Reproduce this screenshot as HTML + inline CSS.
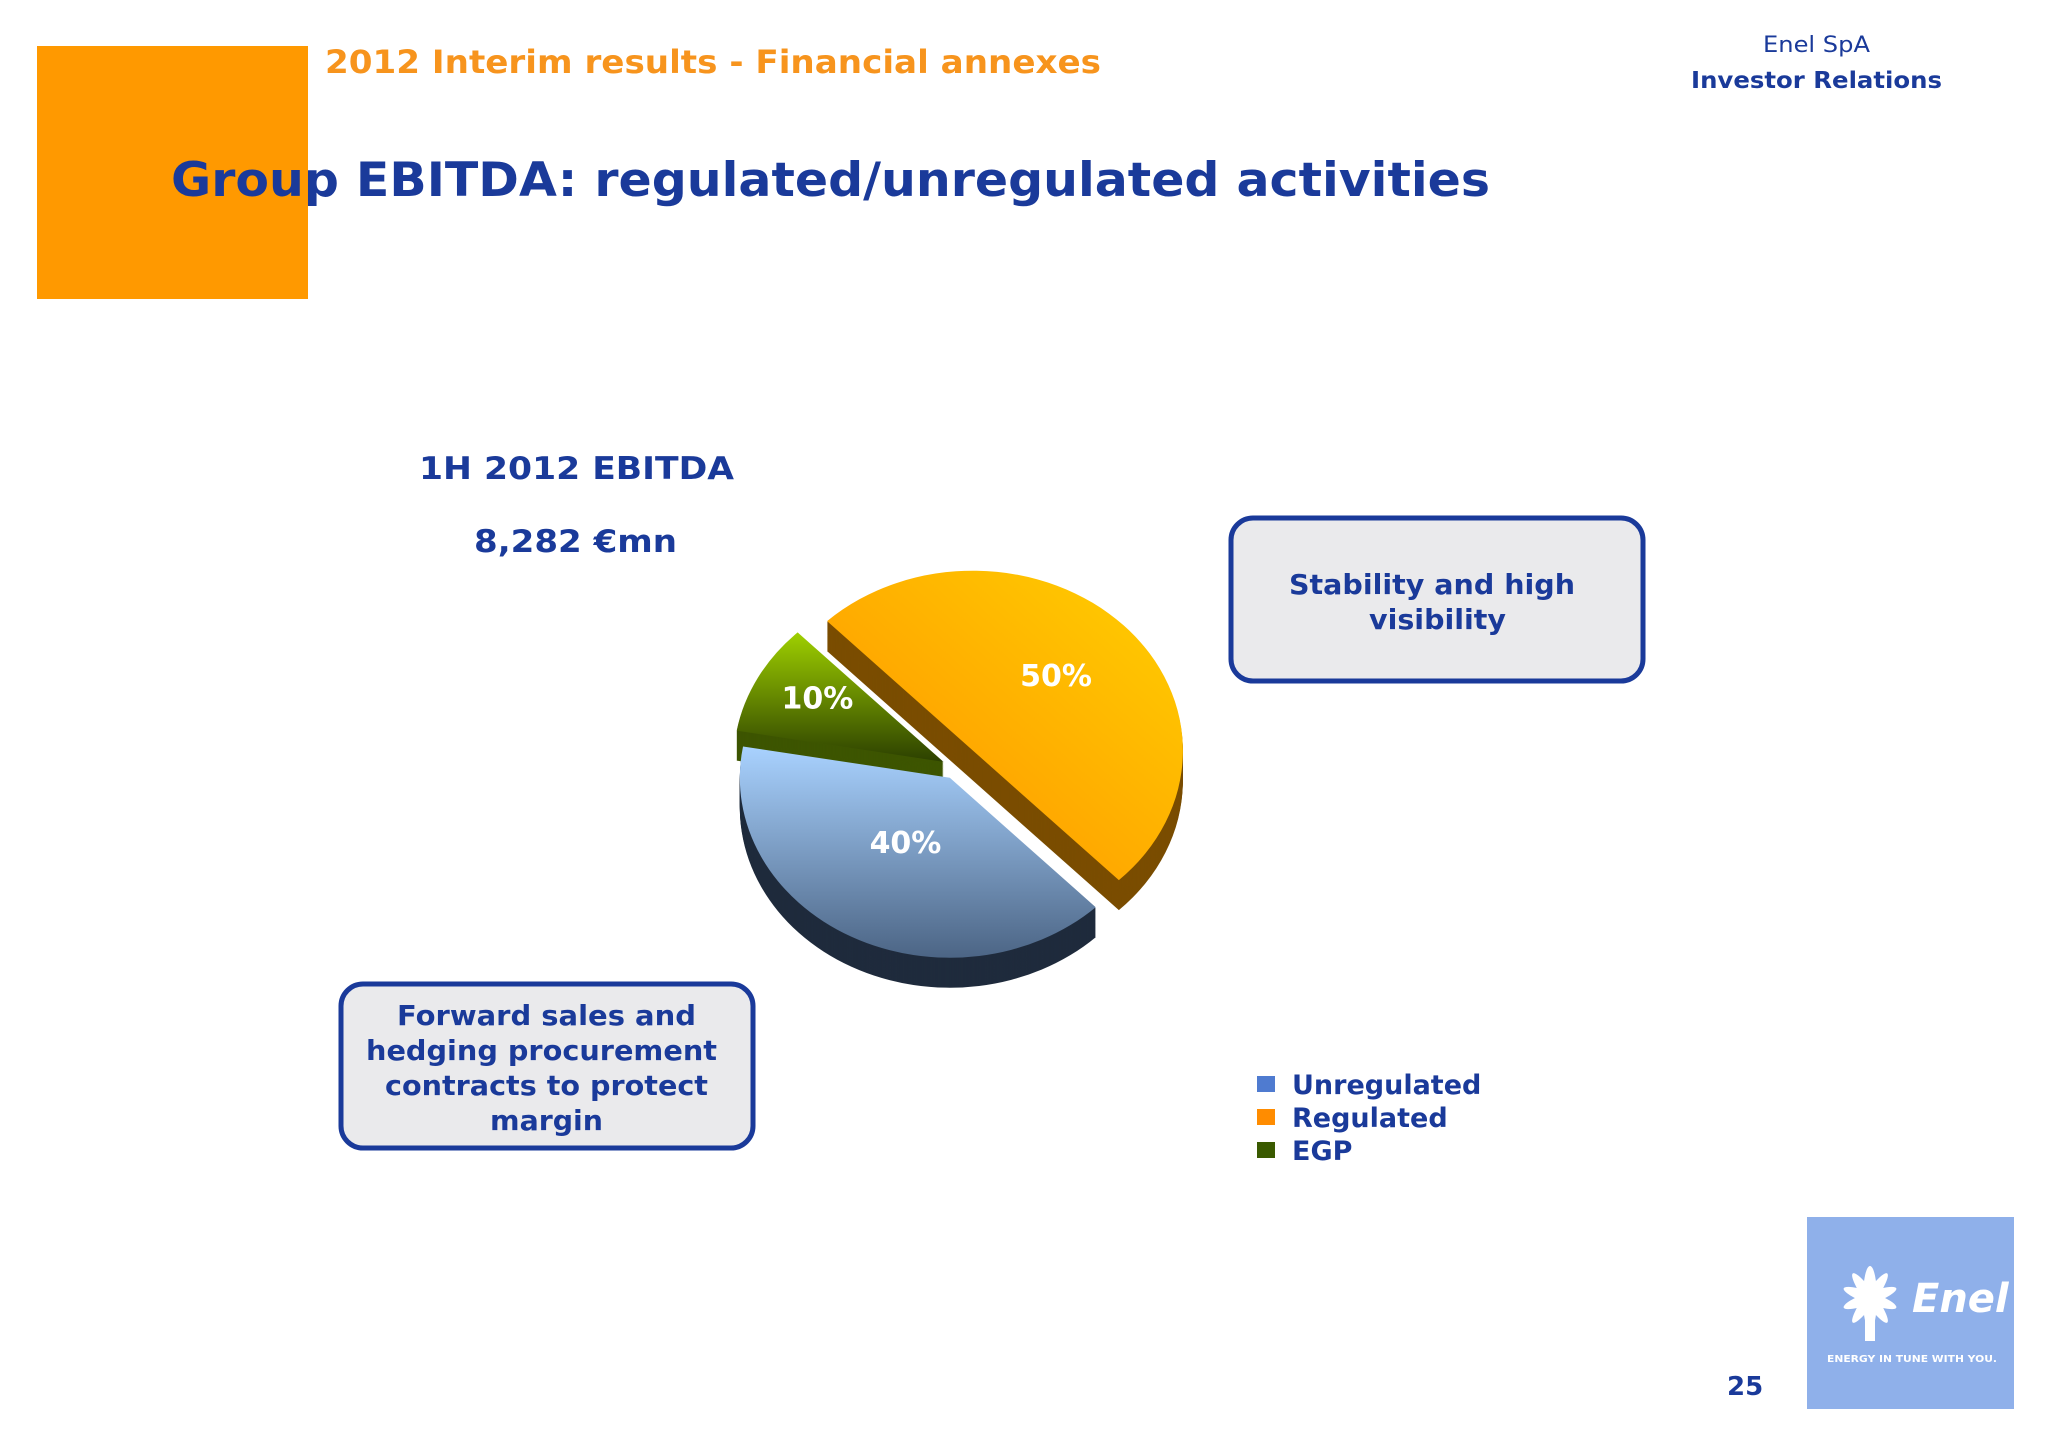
<!DOCTYPE html>
<html><head><meta charset="utf-8"><style>
html,body{margin:0;padding:0;background:#fff;}
svg{display:block;font-family:"DejaVu Sans","Liberation Sans",sans-serif;font-weight:bold;}
</style></head><body>
<svg id="slide" width="2048" height="1448" viewBox="0 0 2048 1448">
<defs>
<linearGradient id="gOrange" x1="0" y1="1" x2="1" y2="0"><stop offset="0.3" stop-color="#ffa200"/><stop offset="1" stop-color="#ffd000"/></linearGradient>
<linearGradient id="gBlue" x1="0" y1="0" x2="0" y2="1"><stop offset="0" stop-color="#a9d2ff"/><stop offset="1" stop-color="#4c6585"/></linearGradient>
<linearGradient id="gGreen" x1="0" y1="0" x2="0" y2="1"><stop offset="0" stop-color="#9fd000"/><stop offset="1" stop-color="#2c4000"/></linearGradient>
</defs>
<rect x="37" y="46" width="271" height="253" fill="#ff9900"/>
<text x="325" y="73" font-size="32" fill="#f7941d" textLength="776" lengthAdjust="spacingAndGlyphs">2012 Interim results - Financial annexes</text>
<text x="1763" y="52" font-size="22" font-weight="normal" fill="#1a3a9a" textLength="107" lengthAdjust="spacingAndGlyphs">Enel SpA</text>
<text x="1691" y="88" font-size="23" fill="#1a3a9a" textLength="251" lengthAdjust="spacingAndGlyphs">Investor Relations</text>
<text x="171" y="196" font-size="47" fill="#1a3a9a" textLength="1319" lengthAdjust="spacingAndGlyphs">Group EBITDA: regulated/unregulated activities</text>
<text x="419" y="479" font-size="31" fill="#1a3a9a" textLength="315" lengthAdjust="spacingAndGlyphs">1H 2012 EBITDA</text>
<text x="474" y="552" font-size="31" fill="#1a3a9a" textLength="203" lengthAdjust="spacingAndGlyphs">8,282 €mn</text>

<g>
<rect x="1231" y="518" width="412" height="163" rx="22" fill="#eaeaec" stroke="#1a3a9a" stroke-width="5"/>
<text x="1289" y="594" font-size="28" fill="#1a3a9a" textLength="286" lengthAdjust="spacingAndGlyphs">Stability and high</text>
<text x="1369" y="629" font-size="28" fill="#1a3a9a" textLength="137" lengthAdjust="spacingAndGlyphs">visibility</text>
</g>
<g>
<rect x="341" y="984" width="412" height="164" rx="22" fill="#eaeaec" stroke="#1a3a9a" stroke-width="5"/>
<text x="397" y="1025" font-size="28" fill="#1a3a9a" textLength="299" lengthAdjust="spacingAndGlyphs">Forward sales and</text>
<text x="366" y="1060" font-size="28" fill="#1a3a9a" textLength="351" lengthAdjust="spacingAndGlyphs">hedging procurement</text>
<text x="385" y="1095" font-size="28" fill="#1a3a9a" textLength="323" lengthAdjust="spacingAndGlyphs">contracts to protect</text>
<text x="490" y="1130" font-size="28" fill="#1a3a9a" textLength="113" lengthAdjust="spacingAndGlyphs">margin</text>
</g>

<g id="pie"></g>
<g id="legend"></g>

<text x="1727" y="1395" font-size="26" fill="#1a3a9a">25</text>
<g>
<rect x="1807" y="1217" width="207" height="192" fill="#8fb0ea"/>
<g fill="#fff">
<ellipse cx="1870" cy="1298" rx="7" ry="32"/>
<ellipse cx="1870" cy="1298" rx="6" ry="30" transform="rotate(35 1870 1298)"/>
<ellipse cx="1870" cy="1298" rx="6" ry="30" transform="rotate(-35 1870 1298)"/>
<ellipse cx="1870" cy="1298" rx="6" ry="28" transform="rotate(70 1870 1298)"/>
<ellipse cx="1870" cy="1298" rx="6" ry="28" transform="rotate(-70 1870 1298)"/>
<rect x="1865" y="1305" width="10" height="36"/>
</g>
<text x="1912" y="1312" font-size="40" font-style="italic" fill="#fff">Enel</text>
<text x="1827" y="1362" font-size="10" fill="#fff" textLength="170" lengthAdjust="spacingAndGlyphs">ENERGY IN TUNE WITH YOU.</text>
</g>

<script>
const categories = ["Regulated", "Unregulated", "EGP"];
const values = [50, 40, 10];
const labels = ["50%", "40%", "10%"];
const legendOrder = ["Unregulated", "Regulated", "EGP"];

const NS = "http://www.w3.org/2000/svg";
const pie = document.getElementById("pie");
const legend = document.getElementById("legend");
const base = {x: 955, y: 768}, rx = 210, ry = 180, depth = 30, startDeg = 226;
const tops = {Regulated: "url(#gOrange)", Unregulated: "url(#gBlue)", EGP: "url(#gGreen)"};
const sides = {Regulated: "#7a4d00", Unregulated: "#1f2b3c", EGP: "#3d5500"};
const explode = {Regulated: 25, Unregulated: 11, EGP: 13};
const labelR = {Regulated: 0.55, Unregulated: 0.45, EGP: 0.68};
const swatch = {Regulated: "#ff8c00", Unregulated: "#4f7bd0", EGP: "#3a5a00"};
const total = values.reduce((a, b) => a + b, 0);
function angleOf(v) { return v / total * 360; }
function pt(c, deg, dy) {
  const r = deg * Math.PI / 180;
  return [c.x + rx * Math.cos(r), c.y + ry * Math.sin(r) + dy];
}
function slicePath(c, a0, a1, dy) {
  const p0 = pt(c, a0, dy), p1 = pt(c, a1, dy);
  const large = (a1 - a0) > 180 ? 1 : 0;
  return `M${c.x},${c.y + dy} L${p0[0]},${p0[1]} A${rx},${ry} 0 ${large} 1 ${p1[0]},${p1[1]} Z`;
}
const slices = [];
let acc = startDeg;
values.forEach((v, i) => {
  const a0 = acc, a1 = acc + angleOf(v);
  acc = a1;
  const mid = (a0 + a1) / 2 * Math.PI / 180;
  const e = explode[categories[i]];
  const c = {x: base.x + e * Math.cos(mid), y: base.y + e * Math.sin(mid)};
  slices.push({a0, a1, mid, c, cat: categories[i], label: labels[i]});
});
slices.forEach(s => {
  const g = document.createElementNS(NS, "g");
  
  
  for (let d = depth; d > 0; d -= 1) {
    const p = document.createElementNS(NS, "path");
    p.setAttribute("d", slicePath(s.c, s.a0, s.a1, d));
    p.setAttribute("fill", sides[s.cat]);
    g.appendChild(p);
  }
  pie.appendChild(g);
});
slices.forEach(s => {
  const p = document.createElementNS(NS, "path");
  p.setAttribute("d", slicePath(s.c, s.a0, s.a1, 0));
  p.setAttribute("fill", tops[s.cat]);
  
  
  pie.appendChild(p);
});
slices.forEach(s => {
  const t = document.createElementNS(NS, "text");
  const k = labelR[s.cat];
  t.setAttribute("x", s.c.x + k * rx * Math.cos(s.mid));
  t.setAttribute("y", s.c.y + k * ry * Math.sin(s.mid) + 4);
  t.setAttribute("text-anchor", "middle");
  t.setAttribute("font-size", "30");
  t.setAttribute("fill", "#fff");
  t.textContent = s.label;
  
  
  pie.appendChild(t);
});
legendOrder.forEach((name, i) => {
  const y = 1084 + i * 33;
  const r = document.createElementNS(NS, "rect");
  r.setAttribute("x", 1257); r.setAttribute("y", y - 8);
  r.setAttribute("width", 18); r.setAttribute("height", 16);
  r.setAttribute("fill", swatch[name]);
  
  
  legend.appendChild(r);
  const t = document.createElementNS(NS, "text");
  t.setAttribute("x", 1292); t.setAttribute("y", y + 10);
  t.setAttribute("font-size", "27");
  t.setAttribute("fill", "#1a3a9a");
  t.textContent = name;
  
  
  legend.appendChild(t);
});
</script>
</svg>
</body></html>
